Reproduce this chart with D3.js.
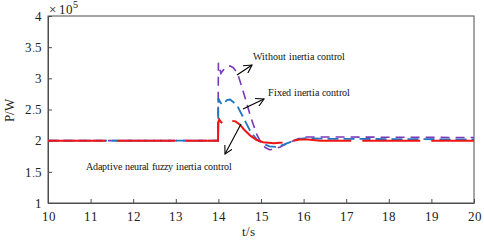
<!DOCTYPE html>
<html><head><meta charset="utf-8">
<script src="https://cdn.jsdelivr.net/npm/d3@7"></script>
<style>
@font-face{font-family:"RefSerif";src:local("Liberation Serif"),local("LiberationSerif"),local("Liberation Serif Regular"),local("LiberationSerif-Regular");}
</style>
</head><body style="margin:0;background:#fff"><svg id="c" width="484" height="240" style="display:block"></svg>
<script>
const xTicks=[10,11,12,13,14,15,16,17,18,19,20];
const yTicks=[1,1.5,2,2.5,3,3.5,4];
const yTickLabels=["1","1.5","2","2.5","3","3.5","4"];
const seriesNames=["Without inertia control","Fixed inertia control","Adaptive neural fuzzy inertia control"];
// values in units of 1e5 W
const tWithout=[10,13.99,14,14.03,14.06,14.1,14.18,14.27,14.35,14.45,14.6,14.75,14.9,15.0,15.1,15.2,15.3,15.45,15.6,15.8,16.0,16.3,20];
const pWithout=[2,2,3.25,3.15,3.08,3.12,3.18,3.2,3.17,3.08,2.75,2.4,2.1,1.97,1.89,1.855,1.86,1.9,1.95,2.01,2.06,2.06,2.05];
const tFixed=[10,13.99,14,14.04,14.08,14.13,14.2,14.27,14.35,14.45,14.6,14.75,14.9,15.05,15.2,15.35,15.5,15.7,15.9,16.1,16.5,20];
const pFixed=[2,2,2.68,2.62,2.58,2.6,2.65,2.66,2.62,2.55,2.35,2.15,2.02,1.95,1.91,1.9,1.93,1.98,2.03,2.04,2.03,2.02];
const tAdaptive=[10,13.99,14,14.02,14.06,14.1,14.15,14.22,14.3,14.4,14.5,14.6,14.75,14.9,15.05,15.3,15.5,15.7,15.9,16.1,16.4,20];
const pAdaptive=[2,2,2.3,2.34,2.3,2.28,2.3,2.33,2.32,2.31,2.26,2.18,2.08,2.01,1.975,1.96,1.97,1.99,2.02,2.02,2.0,2.0];

const svg=d3.select("#c");
const L=48,R=474,T=16,B=203;
const x=d3.scaleLinear().domain([10,20]).range([L,R]);
const y=d3.scaleLinear().domain([1,4]).range([B,T]);
const axisColor="#4d4d4d";
const FF="RefSerif, 'Liberation Serif', Tinos, serif";
const setFont=(sel,size)=>sel.attr("font-family",FF).attr("font-size",size);

svg.append("rect").attr("x",L).attr("y",T).attr("width",R-L).attr("height",B-T)
 .attr("fill","none").attr("stroke",axisColor).attr("stroke-width",1);

const xa=svg.append("g").attr("transform",`translate(0,${B})`)
 .call(d3.axisBottom(x).tickValues(xTicks).tickSizeInner(-4).tickSizeOuter(0).tickPadding(9).tickFormat(d3.format("d")));
const ya=svg.append("g").attr("transform",`translate(${L},0)`)
 .call(d3.axisLeft(y).tickValues(yTicks).tickSizeInner(-4).tickSizeOuter(0).tickPadding(6).tickFormat((d,i)=>yTickLabels[i]));
[xa,ya].forEach(g=>{setFont(g,13);g.select(".domain").attr("stroke",axisColor);g.selectAll(".tick line").attr("stroke",axisColor);
 setFont(g.selectAll(".tick text").attr("fill","#222"),13);});

const line=d3.line().x(d=>x(d[0])).y(d=>y(d[1]));
svg.append("defs").append("clipPath").attr("id","cp").append("rect").attr("x",L).attr("y",T).attr("width",R-L).attr("height",B-T);
const plot=svg.append("g").attr("clip-path","url(#cp)");
const specs=[
 {t:tWithout,p:pWithout,color:"#7b39b8",w:1.6,dash:"9,6"},
 {t:tFixed,p:pFixed,color:"#1f77c4",w:1.8,dash:"11,5"},
 {t:tAdaptive,p:pAdaptive,color:"#f01414",w:2,dash:"58,11"}
];
specs.forEach(s=>{
 plot.append("path").datum(s.t.map((t,i)=>[t,s.p[i]])).attr("d",line)
  .attr("fill","none").attr("stroke",s.color).attr("stroke-width",s.w).attr("stroke-dasharray",s.dash);
});

const defs=svg.select("defs");
defs.append("marker").attr("id","ah").attr("viewBox","0 0 10 10").attr("refX",9).attr("refY",5)
 .attr("markerWidth",9).attr("markerHeight",9).attr("orient","auto").attr("markerUnits","userSpaceOnUse")
 .append("path").attr("d","M0,0 L9,5 L0,10").attr("fill","none").attr("stroke","#000").attr("stroke-width",1.2);
const arrows=[[237,75,252,65],[243,109,264,99],[241,124,225,154]];
arrows.forEach(a=>svg.append("line").attr("x1",a[0]).attr("y1",a[1]).attr("x2",a[2]).attr("y2",a[3])
 .attr("stroke","#000").attr("stroke-width",1.1).attr("marker-end","url(#ah)"));
const labels=[[253,60,seriesNames[0]],[268,96,seriesNames[1]],[86,170,seriesNames[2]]];
labels.forEach(l=>setFont(svg.append("text").attr("x",l[0]).attr("y",l[1]).text(l[2]).attr("fill","#111"),10));

setFont(svg.append("text").attr("x",248).attr("y",236).attr("text-anchor","middle").attr("fill","#222").text("t/s"),13);
setFont(svg.append("text").attr("transform","translate(14,110) rotate(-90)").attr("text-anchor","middle").attr("fill","#222").text("P/W"),13);
const ex=setFont(svg.append("text").attr("x",49).attr("y",14).attr("fill","#222"),13);
ex.append("tspan").text("× 10");
ex.append("tspan").attr("dy",-6).attr("font-size",10).text("5");
</script></body></html>
